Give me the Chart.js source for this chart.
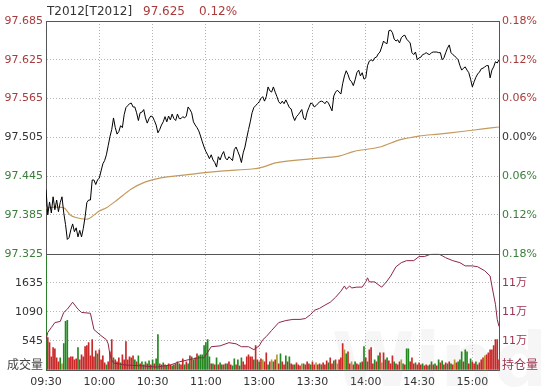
<!DOCTYPE html>
<html>
<head>
<meta charset="utf-8">
<script src="https://cdn.jsdelivr.net/npm/chart.js@4.4.1/dist/chart.umd.min.js"></script>
<style>
body { margin: 0; background: #fff; }
#wrap { width: 542px; height: 390px; position: relative; }
</style>
</head>
<body>
<div id="wrap"><canvas id="myChart"></canvas></div>
<script>
// x axis: trading minutes from 09:30 (11:30 and 13:00 share minute 120)
const timeLabels = ['09:30', '10:00', '10:30', '11:00', '13:00', '13:30', '14:00', '14:30', '15:00'];
const timeTicks = [0, 30, 60, 90, 120, 150, 180, 210, 240];
const lastMinute = 255;

const prevClose = 97.505;
const priceTicks = [97.325, 97.385, 97.445, 97.505, 97.565, 97.625, 97.685];
const pctTicks = [-0.18, -0.12, -0.06, 0, 0.06, 0.12, 0.18];
const volTicks = [0, 545, 1090, 1635, 2180];
const oiTicks = [110000, 111000, 112000, 113000, 114000];

// price per minute
const prices = [
  97.424, 97.385, 97.405, 97.388, 97.413, 97.393, 97.408, 97.390, 97.404, 97.413,
  97.388, 97.370, 97.347, 97.350, 97.362, 97.371, 97.359, 97.365, 97.351, 97.361,
  97.351, 97.364, 97.382, 97.404, 97.408, 97.408, 97.439, 97.439, 97.432, 97.439,
  97.442, 97.453, 97.464, 97.469, 97.478, 97.492, 97.506, 97.517, 97.535, 97.520,
  97.510, 97.514, 97.523, 97.520, 97.540, 97.551, 97.554, 97.557, 97.558, 97.552,
  97.552, 97.543, 97.531, 97.543, 97.544, 97.548, 97.535, 97.527, 97.534, 97.538,
  97.537, 97.531, 97.524, 97.512, 97.517, 97.524, 97.529, 97.537, 97.529, 97.538,
  97.532, 97.541, 97.534, 97.531, 97.541, 97.534, 97.534, 97.537, 97.535, 97.538,
  97.552, 97.548, 97.543, 97.529, 97.524, 97.520, 97.515, 97.507, 97.498, 97.490,
  97.483, 97.478, 97.472, 97.478, 97.470, 97.466, 97.459, 97.475, 97.470, 97.478,
  97.483, 97.473, 97.470, 97.475, 97.472, 97.469, 97.486, 97.490, 97.483, 97.476,
  97.466, 97.481, 97.490, 97.504, 97.517, 97.529, 97.543, 97.551, 97.554, 97.557,
  97.560, 97.565, 97.568, 97.561, 97.568, 97.583, 97.577, 97.575, 97.583, 97.575,
  97.568, 97.560, 97.557, 97.561, 97.557, 97.563, 97.557, 97.551, 97.549, 97.538,
  97.531, 97.537, 97.540, 97.544, 97.548, 97.535, 97.532, 97.544, 97.551, 97.558,
  97.557, 97.552, 97.554, 97.557, 97.560, 97.561, 97.560, 97.557, 97.561, 97.558,
  97.552, 97.546, 97.569, 97.575, 97.578, 97.575, 97.572, 97.588, 97.600, 97.608,
  97.602, 97.594, 97.591, 97.585, 97.594, 97.605, 97.609, 97.600, 97.605, 97.595,
  97.597, 97.616, 97.623, 97.625, 97.623, 97.628, 97.629, 97.634, 97.637, 97.645,
  97.654, 97.651, 97.650, 97.670, 97.671, 97.667, 97.657, 97.654, 97.656, 97.651,
  97.659, 97.662, 97.663, 97.657, 97.654, 97.651, 97.636, 97.633, 97.637, 97.625,
  97.628, 97.629, 97.633, 97.634, 97.636, 97.634, 97.633, 97.636, 97.637, 97.637,
  97.637, 97.636, 97.636, 97.625, 97.628, 97.636, 97.643, 97.648, 97.636, 97.633,
  97.631, 97.628, 97.625, 97.616, 97.609, 97.612, 97.614, 97.609, 97.605, 97.595,
  97.583, 97.591, 97.598, 97.603, 97.606, 97.611, 97.612, 97.614, 97.616, 97.616,
  97.597, 97.609, 97.614, 97.622, 97.620, 97.625
];

// average price line
const avgMinutes = [0, 10, 14, 20, 24, 30, 34, 40, 48, 56, 64, 76, 88, 100, 116, 122, 130, 150, 165, 173, 188, 199, 210, 221, 234, 246, 255];
const avgPrices = [97.396, 97.396, 97.384, 97.379, 97.379, 97.391, 97.396, 97.408, 97.425, 97.436, 97.442, 97.446, 97.450, 97.453, 97.456, 97.459, 97.466, 97.472, 97.476, 97.483, 97.490, 97.501, 97.507, 97.510, 97.514, 97.518, 97.521];

// volume per minute
const volumes = [
  2180, 608, 513, 247, 418, 399, 228, 152, 228, 114,
  494, 912, 931, 228, 247, 247, 190, 209, 418, 190,
  285, 247, 437, 456, 513, 266, 570, 247, 361, 304,
  380, 190, 266, 133, 95, 152, 342, 570, 228, 190,
  152, 228, 133, 285, 190, 532, 190, 247, 228, 266,
  190, 152, 266, 114, 152, 95, 152, 114, 171, 95,
  190, 114, 209, 665, 114, 95, 133, 95, 76, 114,
  95, 76, 95, 114, 152, 114, 95, 209, 95, 152,
  114, 266, 247, 190, 228, 304, 266, 285, 285, 456,
  513, 570, 247, 114, 114, 95, 228, 95, 133, 95,
  95, 114, 114, 152, 95, 76, 209, 95, 190, 76,
  228, 152, 95, 247, 285, 247, 247, 190, 456, 190,
  152, 209, 190, 152, 323, 95, 152, 190, 152, 190,
  285, 114, 304, 152, 95, 266, 152, 247, 114, 95,
  95, 133, 95, 76, 114, 114, 95, 152, 114, 95,
  152, 95, 133, 95, 114, 95, 133, 95, 171, 133,
  228, 114, 171, 190, 114, 190, 228, 494, 380, 304,
  342, 114, 152, 95, 152, 114, 95, 133, 152, 437,
  228, 152, 380, 418, 114, 190, 152, 266, 323, 133,
  323, 190, 228, 171, 114, 266, 152, 114, 95, 152,
  190, 114, 95, 399, 399, 152, 228, 114, 133, 95,
  133, 95, 114, 76, 95, 76, 95, 152, 95, 114,
  76, 190, 133, 171, 95, 133, 114, 152, 114, 95,
  190, 133, 152, 190, 342, 152, 380, 342, 114, 209,
  152, 114, 152, 95, 133, 190, 228, 266, 285, 323,
  380, 380, 456, 570, 570, 190
];
// R = up, G = down, Y = flat
const volColors = (
  'GRRRRRRRGY' + 'GGGRRRRRGR' + 'RRRRRRRRRG' + 'RRRRGRRRGR' + 'RRGRRRRRRR' +
  'GRGRGRGRGR' + 'GRGGRRGRGR' + 'RGRGRGRRGR' + 'GRGRGRGGGG' + 'GGGRGRGRGR' +
  'GRGRRGGRGR' + 'GRRRRRRGRR' + 'GRYRRGRYGR' + 'YRGRRGRGRR' + 'GRRRYGRRRG' +
  'RRYRRGRRRG' + 'RRGRYRRRYG' + 'RRYRGRRGRG' + 'RGRRRGRGRY' + 'RRGRRRGRRR' +
  'YGRGGRRRGR' + 'RRGRRGRGRG' + 'RGRGRRGRGR' + 'YRGGGRGGRG' + 'RRGRRRRYRR' + 'RRRRRR'
).split('');

// open interest
const oiMinutes = [0, 1, 3, 5, 8, 10, 12, 15, 18, 20, 25, 27, 31, 34, 35, 36, 37, 38, 45, 55,
  62, 70, 75, 80, 86, 89, 93, 98, 103, 107, 110, 114, 117, 120, 122, 124, 127, 131, 135, 139,
  143, 146, 149, 151, 154, 157, 160, 163, 166, 168, 169, 171, 172, 175, 178, 180, 181, 182, 185, 188,
  189, 192, 194, 197, 200, 203, 207, 210, 213, 216, 218, 221, 223, 225, 229, 233, 236, 240, 243, 247,
  250, 251, 253, 254, 255];
const oiValues = [111040, 111290, 111460, 111630, 111670, 111980, 112090, 112330, 112090, 111980,
  111950, 111390, 111180, 111040, 110900, 110520, 110350, 110240, 110170, 110140,
  110100, 110170, 110280, 110350, 110420, 110420, 110800, 110830, 110940, 110900,
  110800, 110800, 110700, 110830, 111040, 111150, 111360, 111630, 111700, 111740,
  111740, 111770, 111910, 112050, 112120, 112230, 112330, 112500, 112710, 112890,
  112780, 112890, 112820, 112850, 112850, 113030, 113170, 113030, 113030, 112890,
  112850, 113060, 113230, 113550, 113690, 113760, 113760, 113900, 113900, 113970,
  113990, 113990, 113930, 113860, 113760, 113690, 113580, 113580, 113550, 113410,
  113230, 112890, 112260, 111740, 111500];

const RED = '#a83c3c';
const GREEN = '#3b7d3b';
const DARK = '#333333';
const MAROON = '#9a3550';
const FRAME = '#555555';
const GRID = '#b4b4b4';
const FONT = 'DejaVu Sans, Noto Sans CJK SC, sans-serif';
const barColorMap = { R: '#c82828', G: '#22881f', Y: '#b09a30' };

function fixWidth(w) {
    return function (scale) { scale.width = w; };
}
function setTicks(list) {
    return function (scale) { scale.ticks = list.map(v => ({ value: v })); };
}
function edgeGrid(list) {
    return function (ctx) {
        if (!ctx.tick) return GRID;
        const v = ctx.tick.value;
        return (v === list[0] || v === list[list.length - 1]) ? 'rgba(0,0,0,0)' : GRID;
    };
}

const framePlugin = {
    id: 'frame',
    beforeDatasetsDraw(chart) {
        const ctx = chart.ctx;
        ctx.save();
        ctx.fillStyle = 'rgba(170,170,170,0.11)';
        ctx.font = 'bold 75px ' + FONT;
        ctx.textBaseline = 'alphabetic';
        ctx.fillText('Wind', 332, 386);
        ctx.restore();
    },
    afterDraw(chart) {
        const ctx = chart.ctx;
        const area = chart.chartArea;
        const sep = Math.round(chart.scales.yPrice.bottom) + 0.5;
        ctx.save();
        ctx.strokeStyle = FRAME;
        ctx.lineWidth = 1;
        ctx.beginPath();
        ctx.moveTo(area.left, Math.round(area.top) + 0.5);
        ctx.lineTo(area.right, Math.round(area.top) + 0.5);
        ctx.moveTo(area.left, sep);
        ctx.lineTo(area.right, sep);
        ctx.stroke();

        ctx.font = '12px ' + FONT;
        ctx.textBaseline = 'alphabetic';
        ctx.textAlign = 'left';
        ctx.fillStyle = DARK;
        ctx.fillText('T2012[T2012]', 47, 15);
        ctx.fillStyle = RED;
        ctx.fillText('97.625', 143, 15);
        ctx.fillText('0.12%', 199, 15);

        ctx.textBaseline = 'middle';
        ctx.font = '12px Noto Sans CJK SC, sans-serif';
        ctx.textAlign = 'right';
        ctx.fillStyle = '#444444';
        ctx.fillText('成交量', 43, 364);
        ctx.textAlign = 'left';
        ctx.fillStyle = MAROON;
        ctx.fillText('持仓量', 502, 364);
        ctx.restore();
    }
};

const ctx = document.getElementById('myChart').getContext('2d');
const myChart = new Chart(ctx, {
    type: 'line',
    data: {
        datasets: [
            {
                label: 'price',
                data: prices.map((p, i) => ({ x: i, y: p })),
                yAxisID: 'yPrice',
                borderColor: '#000000',
                borderWidth: 1,
                pointRadius: 0,
                tension: 0,
                order: 1
            },
            {
                label: 'average',
                data: avgPrices.map((p, i) => ({ x: avgMinutes[i], y: p })),
                yAxisID: 'yPrice',
                borderColor: '#c39a5c',
                borderWidth: 1.2,
                pointRadius: 0,
                tension: 0.3,
                order: 2
            },
            {
                label: 'open interest',
                data: oiValues.map((v, i) => ({ x: oiMinutes[i], y: v })),
                yAxisID: 'yOI',
                borderColor: '#8e2746',
                borderWidth: 1,
                pointRadius: 0,
                tension: 0,
                order: 3
            },
            {
                type: 'bar',
                label: 'volume',
                data: volumes.map((v, i) => ({ x: i, y: v })),
                yAxisID: 'yVol',
                backgroundColor: volColors.map(c => barColorMap[c]),
                barThickness: 1,
                order: 4
            }
        ]
    },
    options: {
        responsive: true,
        maintainAspectRatio: false,
        animation: false,
        devicePixelRatio: 1,
        layout: { padding: { top: 21, left: 0, right: 0, bottom: 0 } },
        plugins: {
            legend: { display: false },
            tooltip: { enabled: false }
        },
        scales: {
            x: {
                type: 'linear',
                min: 0,
                max: lastMinute,
                offset: false,
                afterBuildTicks: setTicks(timeTicks),
                afterFit: function (scale) { scale.height = 20; },
                grid: { color: edgeGrid([0, lastMinute]), drawTicks: false, offset: false },
                border: { color: FRAME, dash: [1, 2] },
                ticks: {
                    autoSkip: false,
                    maxRotation: 0,
                    padding: 6,
                    color: DARK,
                    font: { family: FONT, size: 11 },
                    callback: value => {
                        const k = timeTicks.indexOf(value);
                        return k >= 0 ? timeLabels[k] : '';
                    }
                }
            },
            // left boxes are stacked in reverse order, so volume comes first
            yVol: {
                type: 'linear',
                position: 'left',
                stack: 'left',
                stackWeight: 1,
                min: volTicks[0],
                max: volTicks[volTicks.length - 1],
                afterBuildTicks: setTicks(volTicks),
                afterFit: fixWidth(46),
                grid: { color: edgeGrid(volTicks), drawTicks: false },
                border: { color: FRAME, dash: [1, 2] },
                ticks: {
                    autoSkip: false,
                    padding: 3,
                    font: { family: FONT, size: 11 },
                    color: DARK,
                    callback: value => (value === volTicks[0] || value === volTicks[volTicks.length - 1]) ? '' : String(value)
                }
            },
            yPrice: {
                type: 'linear',
                position: 'left',
                stack: 'left',
                stackWeight: 2,
                min: priceTicks[0],
                max: priceTicks[priceTicks.length - 1],
                afterBuildTicks: setTicks(priceTicks),
                afterFit: fixWidth(46),
                grid: { color: edgeGrid(priceTicks), drawTicks: false },
                border: { color: FRAME, dash: [1, 2] },
                ticks: {
                    autoSkip: false,
                    padding: 3,
                    font: { family: FONT, size: 11 },
                    color: c => c.tick.value > prevClose + 1e-6 ? RED : (c.tick.value < prevClose - 1e-6 ? GREEN : DARK),
                    callback: value => value.toFixed(3)
                }
            },
            yPct: {
                type: 'linear',
                display: true,
                position: 'right',
                stack: 'right',
                stackWeight: 2,
                min: pctTicks[0],
                max: pctTicks[pctTicks.length - 1],
                afterBuildTicks: setTicks(pctTicks),
                afterFit: fixWidth(43),
                grid: { display: false, drawTicks: false },
                border: { color: FRAME },
                ticks: {
                    autoSkip: false,
                    padding: 3,
                    font: { family: FONT, size: 11 },
                    color: c => c.tick.value > 1e-6 ? RED : (c.tick.value < -1e-6 ? GREEN : DARK),
                    callback: value => Math.abs(value).toFixed(2) + '%'
                }
            },
            yOI: {
                type: 'linear',
                position: 'right',
                stack: 'right',
                stackWeight: 1,
                min: oiTicks[0],
                max: oiTicks[oiTicks.length - 1],
                afterBuildTicks: setTicks(oiTicks),
                afterFit: fixWidth(43),
                grid: { display: false, drawTicks: false },
                border: { color: FRAME },
                ticks: {
                    autoSkip: false,
                    padding: 3,
                    font: { family: FONT, size: 11 },
                    color: MAROON,
                    callback: value => (value === oiTicks[0] || value === oiTicks[oiTicks.length - 1]) ? '' : Math.floor(value / 10000) + '万'
                }
            }
        }
    },
    plugins: [framePlugin]
});
</script>
</body>
</html>
